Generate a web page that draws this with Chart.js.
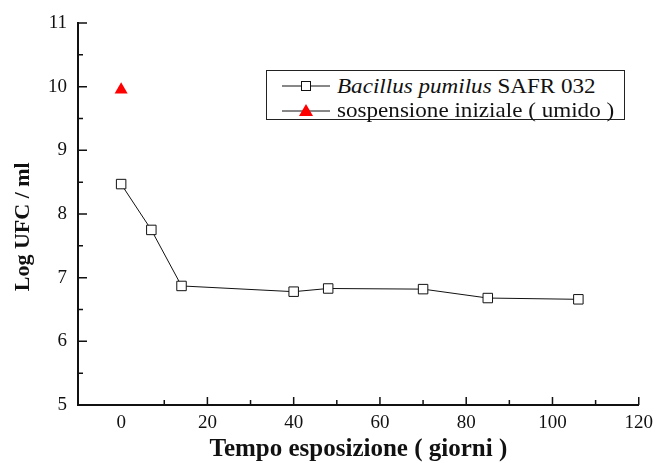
<!DOCTYPE html>
<html>
<head>
<meta charset="utf-8">
<script src="https://cdn.jsdelivr.net/npm/chart.js@4"></script>
<style>
  body { margin: 0; background: #fff; }
  #wrap { position: relative; width: 660px; height: 463px; }
  #legend {
    position: absolute; left: 266px; top: 70px; width: 359px; height: 50px;
    border: 1px solid #222; box-sizing: border-box; background: #fff;
    font-family: "Liberation Serif", serif; font-size: 21px; color: #111;
  }
  .row { position: absolute; left: 15px; height: 22px; display: flex; align-items: center; white-space: nowrap; }
  .row svg { margin-right: 7px; }
  .row span { display: inline-block; transform: scaleX(1.1); transform-origin: left center; }
</style>
</head>
<body>
<div id="wrap">
  <canvas id="chart" width="660" height="463"></canvas>
  <div id="legend">
    <div class="row" style="top:4px">
      <svg width="48" height="14"><line x1="0" y1="7" x2="48" y2="7" stroke="#111" stroke-width="1"/><rect x="19.5" y="2.5" width="9" height="9" fill="#fff" stroke="#111" stroke-width="1"/></svg>
      <span><i>Bacillus pumilus</i> SAFR 032</span>
    </div>
    <div class="row" style="top:28px">
      <svg width="48" height="14"><line x1="0" y1="8" x2="48" y2="8" stroke="#111" stroke-width="1"/><polygon points="24,1 31,13 17,13" fill="#ff0000"/></svg>
      <span>sospensione iniziale ( umido )</span>
    </div>
  </div>
</div>
<script>
// giorni di esposizione
const giorni = [0, 7, 14, 40, 48, 70, 85, 106];
const logUfc = [8.47, 7.75, 6.87, 6.78, 6.83, 6.82, 6.68, 6.66];

const giorniIniziale = [0];
const logUfcIniziale = [9.95];

const xTicks = [0, 20, 40, 60, 80, 100, 120];
const yTicks = [5, 6, 7, 8, 9, 10, 11];

const serif = "Liberation Serif";

// ticks drawn inward like the original plot, plus the y title a bit below centre
const innerTicks = {
  id: 'innerTicks',
  afterDraw(chart) {
    const ctx = chart.ctx;
    const x = chart.scales.x, y = chart.scales.y;
    const area = chart.chartArea;
    ctx.save();
    ctx.strokeStyle = '#111';
    ctx.lineWidth = 1.5;
    ctx.beginPath();
    for (let v = 10; v <= 120; v += 10) {
      const px = x.getPixelForValue(v);
      const len = v % 20 === 0 ? 8 : 5;
      ctx.moveTo(px, area.bottom);
      ctx.lineTo(px, area.bottom - len);
    }
    for (let v = 5.5; v <= 11; v += 0.5) {
      const py = y.getPixelForValue(v);
      const len = v % 1 === 0 ? 9 : 5;
      ctx.moveTo(area.left, py);
      ctx.lineTo(area.left + len, py);
    }
    ctx.stroke();

    ctx.translate(23, y.getPixelForValue(7.8));
    ctx.rotate(-Math.PI / 2);
    ctx.fillStyle = '#111';
    ctx.font = 'bold 22px "Liberation Serif"';
    ctx.textAlign = 'center';
    ctx.textBaseline = 'middle';
    ctx.fillText('Log UFC / ml', 0, 0);
    ctx.restore();
  }
};

const data = {
  datasets: [
    {
      label: 'Bacillus pumilus SAFR 032',
      data: giorni.map((g, i) => ({x: g, y: logUfc[i]})),
      showLine: true,
      borderColor: '#111',
      borderWidth: 1,
      pointStyle: 'rect',
      pointRadius: 6.7,
      pointBackgroundColor: '#fff',
      pointBorderColor: '#111',
      pointBorderWidth: 1,
      tension: 0
    },
    {
      label: 'sospensione iniziale ( umido )',
      data: giorniIniziale.map((g, i) => ({x: g, y: logUfcIniziale[i]})),
      showLine: false,
      pointStyle: 'triangle',
      pointRadius: 7.5,
      pointBackgroundColor: '#ff0000',
      pointBorderColor: '#ff0000',
      pointBorderWidth: 0
    }
  ]
};

const config = {
  type: 'scatter',
  data: data,
  options: {
    responsive: false,
    animation: false,
    layout: { padding: { top: 23, right: 17, bottom: 0, left: 0 } },
    plugins: {
      legend: { display: false },
      tooltip: { enabled: false }
    },
    scales: {
      x: {
        type: 'linear',
        min: -10,
        max: 120,
        afterBuildTicks: s => { s.ticks = xTicks.map(v => ({value: v})); },
        afterFit: s => { s.height = 58; },
        grid: { display: false, drawTicks: false },
        border: { display: true, color: '#111', width: 2 },
        ticks: { padding: 7, color: '#111', font: { family: serif, size: 19 } },
        title: {
          display: true,
          text: 'Tempo esposizione ( giorni )',
          color: '#111',
          font: { family: serif, size: 25, weight: 'bold' },
          padding: { top: 0, bottom: -2 }
        }
      },
      y: {
        type: 'linear',
        min: 5,
        max: 11,
        afterBuildTicks: s => { s.ticks = yTicks.map(v => ({value: v})); },
        afterFit: s => { s.width = 78; },
        grid: { display: false, drawTicks: false },
        border: { display: true, color: '#111', width: 2 },
        ticks: { padding: 11, color: '#111', font: { family: serif, size: 19 } },
        title: { display: false }
      }
    }
  },
  plugins: [innerTicks]
};

let myChart = new Chart(document.getElementById('chart'), config);
</script>
</body>
</html>
